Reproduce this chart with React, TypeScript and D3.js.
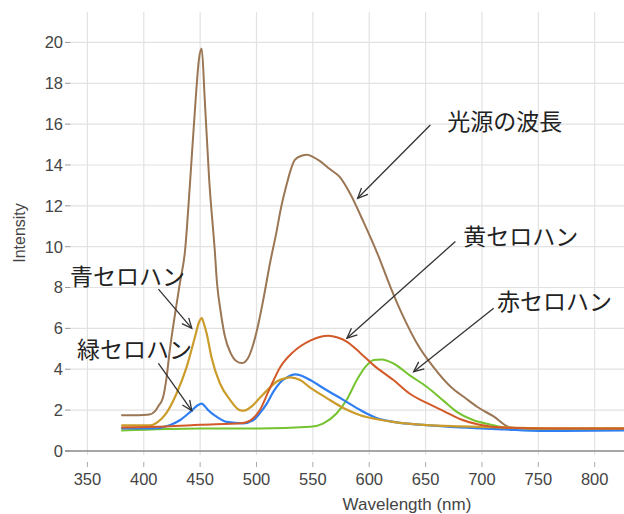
import React from "react";
import * as d3 from "d3";

// ---- data (wavelength nm, intensity) ----
const lightWl = [380, 395, 405, 410, 413, 417, 420, 423, 428, 432, 436.6, 441, 446, 449, 451.4, 454, 458, 463, 465, 468, 472, 477, 482, 487, 492, 497, 502, 506, 512, 518, 521, 527, 530, 534, 540, 545, 550, 556, 565, 574, 583, 595, 607, 619, 630, 642, 657, 673, 685, 696, 710, 725, 740, 780, 826];
const lightVal = [1.75, 1.75, 1.78, 1.95, 2.2, 2.6, 3.5, 4.9, 6.8, 8.2, 9.8, 13.1, 17.2, 19.2, 19.7, 17.3, 13.3, 9.8, 8.2, 6.9, 5.6, 4.8, 4.4, 4.3, 4.5, 5.2, 6.3, 7.4, 9.2, 10.8, 11.7, 13.1, 13.7, 14.25, 14.45, 14.5, 14.4, 14.2, 13.8, 13.4, 12.6, 11.2, 9.7, 8.0, 6.6, 5.3, 4.1, 3.1, 2.6, 2.15, 1.7, 1.15, 1.1, 1.05, 1.05];

const blueCelWl = [380, 405, 412, 420, 429, 438, 445.5, 449, 451.4, 453.5, 455.8, 460, 467.6, 476.5, 485, 489, 495, 503, 510, 518, 525, 530, 538.7, 547.6, 562, 577, 592, 607, 621, 651, 681, 720, 760, 826];
const blueCelVal = [1.25, 1.25, 1.4, 1.85, 2.8, 4.1, 5.6, 6.3, 6.5, 6.2, 5.75, 4.6, 3.3, 2.5, 2.0, 1.97, 2.15, 2.6, 3.0, 3.4, 3.55, 3.6, 3.47, 3.1, 2.6, 2.1, 1.75, 1.55, 1.42, 1.26, 1.2, 1.15, 1.1, 1.1];

const greenCelWl = [380, 408, 423, 432, 441, 447, 451.4, 454, 457, 464.7, 473.6, 488, 497, 503, 509, 515, 521, 527, 534, 540, 547.6, 562, 577, 592, 607, 621.5, 651, 681, 720, 752, 826];
const greenCelVal = [1.1, 1.1, 1.26, 1.5, 1.9, 2.2, 2.32, 2.2, 2.0, 1.67, 1.42, 1.35, 1.5, 1.85, 2.3, 2.9, 3.35, 3.6, 3.75, 3.68, 3.47, 2.98, 2.5, 2.0, 1.6, 1.42, 1.26, 1.15, 1.05, 0.98, 1.0];

const yellowCelWl = [380, 420, 450, 488, 497, 503, 510.5, 521, 532.7, 547.6, 556, 563.8, 572, 580, 592, 603.8, 621.5, 636, 651, 666, 681, 698, 722, 760, 826];
const yellowCelVal = [1.15, 1.2, 1.28, 1.37, 1.6, 2.0, 2.9, 4.1, 4.85, 5.4, 5.58, 5.64, 5.55, 5.35, 4.8, 4.2, 3.47, 2.8, 2.35, 1.95, 1.55, 1.28, 1.13, 1.1, 1.1];

const redCelWl = [380, 450, 503, 547.6, 559, 571, 580, 589, 596.4, 604, 611, 621.5, 636, 651, 666, 678, 692.6, 707, 722, 760, 826];
const redCelVal = [1.0, 1.1, 1.1, 1.18, 1.34, 1.83, 2.5, 3.47, 4.1, 4.45, 4.48, 4.28, 3.7, 3.14, 2.45, 1.9, 1.5, 1.3, 1.13, 1.08, 1.08];

const xTicks = [350, 400, 450, 500, 550, 600, 650, 700, 750, 800];
const yTicks = [0, 2, 4, 6, 8, 10, 12, 14, 16, 18, 20];

const annLabels = ["光源の波長", "黄セロハン", "青セロハン", "緑セロハン", "赤セロハン"];
const annText = [[669.3, 16.1], [683.5, 10.47], [334.5, 8.52], [340.8, 4.94], [713.4, 7.29]];
const annFrom = [[654.2, 15.96], [676.4, 10.25], [413, 7.92], [413, 4.29], [710.4, 6.98]];
const annTo = [[589.7, 12.37], [580.2, 5.52], [442.6, 6.0], [442.6, 1.97], [639.4, 3.88]];

const W = 624;
const H = 514;
const left = 70.5;
const right = 624;
const top = 12;
const bottom = 455;

export default function App() {
  const x = d3.scaleLinear().domain([335, 826]).range([left, right]);
  const y = d3.scaleLinear().domain([-0.2, 21.49]).range([bottom, top]);

  const series = [
    { wl: lightWl, v: lightVal, color: "#9b7654", w: 2 },
    { wl: redCelWl, v: redCelVal, color: "#74c32f", w: 2 },
    { wl: greenCelWl, v: greenCelVal, color: "#2f7ef2", w: 2.2 },
    { wl: blueCelWl, v: blueCelVal, color: "#cc9c2a", w: 2.2 },
    { wl: yellowCelWl, v: yellowCelVal, color: "#d25a29", w: 2 },
  ];

  const line = d3
    .line<[number, number]>()
    .x((d) => x(d[0]))
    .y((d) => y(d[1]))
    .curve(d3.curveMonotoneX);

  const tickFont = "'Liberation Sans', Arial, sans-serif";
  const jpFont = "'Noto Sans CJK JP', sans-serif";

  return (
    <svg
      width={W}
      height={H}
      style={{ position: "absolute", left: 0, top: 0, background: "#fff" }}
    >
      <defs>
        <clipPath id="plot">
          <rect x={left} y={top} width={right - left} height={bottom - top} />
        </clipPath>
      </defs>
      <rect x={0} y={0} width={W} height={H} fill="#fff" />
      {/* grid */}
      {xTicks.map((t) => (
        <g key={"xg" + t}>
          <line x1={x(t)} x2={x(t)} y1={top} y2={bottom} stroke="#e2e2e2" strokeWidth={1.2} />
          <line x1={x(t)} x2={x(t)} y1={462} y2={467} stroke="#aaa" strokeWidth={1} />
          <text
            x={x(t)}
            y={485}
            textAnchor="middle"
            fontFamily={tickFont}
            fontSize={16.5}
            fill="#444"
          >
            {t}
          </text>
        </g>
      ))}
      {yTicks.map((t) => (
        <g key={"yg" + t}>
          {t !== 0 && (
            <line x1={left} x2={right} y1={y(t)} y2={y(t)} stroke="#e2e2e2" strokeWidth={1.2} />
          )}
          <line x1={65} x2={left} y1={y(t)} y2={y(t)} stroke="#999" strokeWidth={1} />
          <text
            x={63}
            y={y(t)}
            dy="0.36em"
            textAnchor="end"
            fontFamily={tickFont}
            fontSize={16.5}
            fill="#444"
          >
            {t}
          </text>
        </g>
      ))}
      <line x1={65} x2={right} y1={y(0)} y2={y(0)} stroke="#8a8a8a" strokeWidth={1.5} />
      {/* axis titles */}
      <text
        x={407}
        y={510}
        textAnchor="middle"
        fontFamily={tickFont}
        fontSize={17}
        fill="#444"
      >
        Wavelength (nm)
      </text>
      <text
        transform={`translate(25, 233) rotate(-90)`}
        textAnchor="middle"
        fontFamily={tickFont}
        fontSize={16}
        fill="#444"
      >
        Intensity
      </text>
      {/* series */}
      <g clipPath="url(#plot)">
        {series.map((s, i) => (
          <path
            key={i}
            d={line(s.wl.map((w, j) => [w, s.v[j]] as [number, number])) || ""}
            fill="none"
            stroke={s.color}
            strokeWidth={s.w}
            strokeLinejoin="round"
          />
        ))}
      </g>
      {/* annotations */}
      {annLabels.map((lab, i) => {
        const x1 = x(annFrom[i][0]);
        const y1 = y(annFrom[i][1]);
        const x2 = x(annTo[i][0]);
        const y2 = y(annTo[i][1]);
        const ang = Math.atan2(y2 - y1, x2 - x1);
        const hl = 11;
        const spread = 0.42;
        const h1x = x2 - hl * Math.cos(ang - spread);
        const h1y = y2 - hl * Math.sin(ang - spread);
        const h2x = x2 - hl * Math.cos(ang + spread);
        const h2y = y2 - hl * Math.sin(ang + spread);
        return (
          <g key={"a" + i}>
            <line x1={x1} y1={y1} x2={x2} y2={y2} stroke="#333" strokeWidth={1.3} />
            <path
              d={`M${h1x},${h1y}L${x2},${y2}L${h2x},${h2y}`}
              fill="none"
              stroke="#333"
              strokeWidth={1.3}
            />
            <text
              x={x(annText[i][0])}
              y={y(annText[i][1])}
              dy="0.36em"
              fontFamily={jpFont}
              fontSize={23}
              fill="#222"
            >
              {lab}
            </text>
          </g>
        );
      })}
    </svg>
  );
}
